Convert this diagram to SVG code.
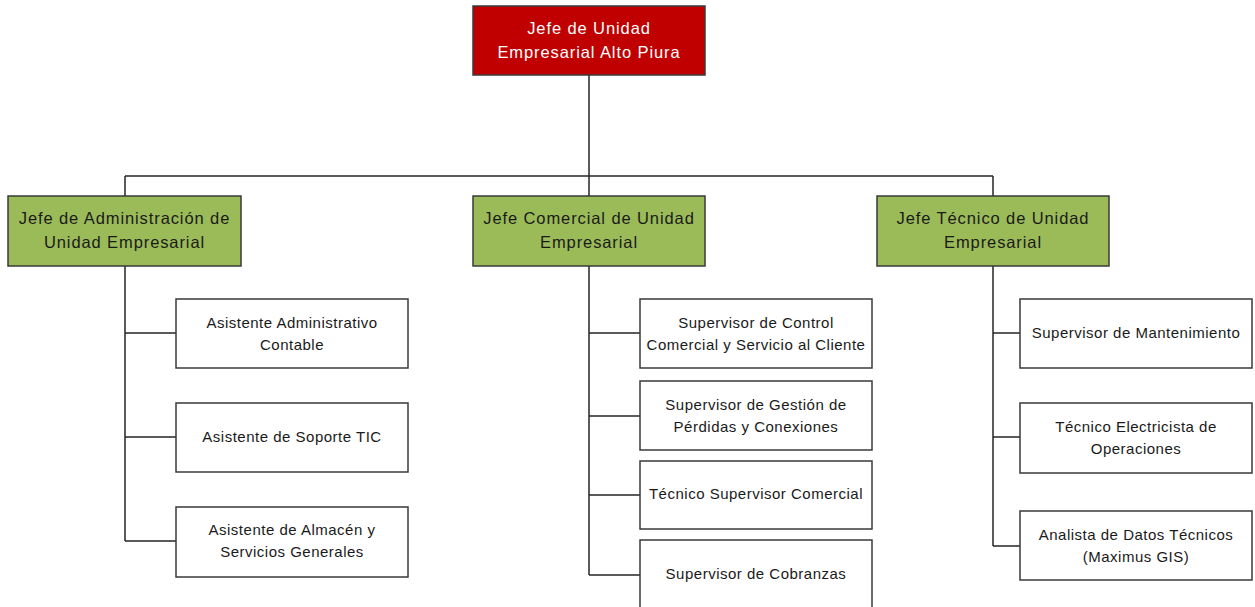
<svg xmlns="http://www.w3.org/2000/svg" width="1255" height="607" viewBox="0 0 1255 607">
<style>
.box{stroke:#3a3a3a;stroke-width:1.5}
.w{fill:#ffffff}
.g{fill:#9BBB59}
.r{fill:#C00000}
.t{font-family:"Liberation Sans",Arial,sans-serif;font-size:15px;letter-spacing:0.5px;text-anchor:middle;fill:#1a1a1a}
.tw{fill:#ffffff;font-size:16.5px;letter-spacing:0.9px}
.tg{font-size:16.5px;letter-spacing:0.9px}
.c{stroke:#262626;stroke-width:1.5;fill:none}
</style>
<g id="connectors">
<path class="c" d="M589 75V176M125 176H993M125 176V196M589 176V196M993 176V196"/>
<path class="c" d="M125 266V541M125 333H176M125 437H176M125 541H176"/>
<path class="c" d="M589 266V575M589 333H640M589 416H640M589 495H640M589 575H640"/>
<path class="c" d="M993 266V546M993 333H1020M993 437H1020M993 546H1020"/>
</g>
<g id="n-jefe-unidad">
<rect class="box r" x="473" y="6" width="232" height="69"/>
<text class="t tw" x="589" y="34">Jefe de Unidad</text>
<text class="t tw" x="589" y="58">Empresarial Alto Piura</text>
</g>
<g id="n-jefe-admin">
<rect class="box g" x="8" y="196" width="233" height="70"/>
<text class="t tg" x="124.5" y="224">Jefe de Administración de</text>
<text class="t tg" x="124.5" y="248">Unidad Empresarial</text>
</g>
<g id="n-jefe-comercial">
<rect class="box g" x="473" y="196" width="232" height="70"/>
<text class="t tg" x="589" y="224">Jefe Comercial de Unidad</text>
<text class="t tg" x="589" y="248">Empresarial</text>
</g>
<g id="n-jefe-tecnico">
<rect class="box g" x="877" y="196" width="232" height="70"/>
<text class="t tg" x="993" y="224">Jefe Técnico de Unidad</text>
<text class="t tg" x="993" y="248">Empresarial</text>
</g>
<g id="n-asist-admin">
<rect class="box w" x="176" y="299" width="232" height="69"/>
<text class="t" x="292" y="328">Asistente Administrativo</text>
<text class="t" x="292" y="350">Contable</text>
</g>
<g id="n-asist-tic">
<rect class="box w" x="176" y="403" width="232" height="69"/>
<text class="t" x="292" y="442">Asistente de Soporte TIC</text>
</g>
<g id="n-asist-almacen">
<rect class="box w" x="176" y="507" width="232" height="70"/>
<text class="t" x="292" y="535">Asistente de Almacén y</text>
<text class="t" x="292" y="557">Servicios Generales</text>
</g>
<g id="n-sup-control">
<rect class="box w" x="640" y="299" width="232" height="69"/>
<text class="t" x="756" y="328">Supervisor de Control</text>
<text class="t" x="756" y="350">Comercial y Servicio al Cliente</text>
</g>
<g id="n-sup-perdidas">
<rect class="box w" x="640" y="381" width="232" height="69"/>
<text class="t" x="756" y="410">Supervisor de Gestión de</text>
<text class="t" x="756" y="432">Pérdidas y Conexiones</text>
</g>
<g id="n-tec-sup-comercial">
<rect class="box w" x="640" y="461" width="232" height="68"/>
<text class="t" x="756" y="499">Técnico Supervisor Comercial</text>
</g>
<g id="n-sup-cobranzas">
<rect class="box w" x="640" y="540" width="232" height="75"/>
<text class="t" x="756" y="579">Supervisor de Cobranzas</text>
</g>
<g id="n-sup-mant">
<rect class="box w" x="1020" y="299" width="232" height="69"/>
<text class="t" x="1136" y="338">Supervisor de Mantenimiento</text>
</g>
<g id="n-tec-elec">
<rect class="box w" x="1020" y="403" width="232" height="70"/>
<text class="t" x="1136" y="432">Técnico Electricista de</text>
<text class="t" x="1136" y="454">Operaciones</text>
</g>
<g id="n-analista">
<rect class="box w" x="1020" y="511" width="232" height="69"/>
<text class="t" x="1136" y="540">Analista de Datos Técnicos</text>
<text class="t" x="1136" y="562">(Maximus GIS)</text>
</g>
</svg>
